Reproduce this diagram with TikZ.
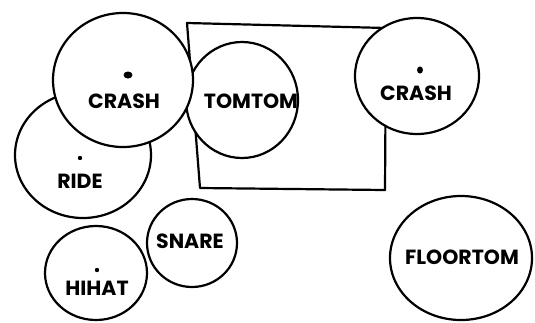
\documentclass[tikz,border=0pt]{standalone}
\usepackage{fontspec}
\newfontfamily\drumfont{Poppins}
\usepackage{tikz}

\begin{document}
\begin{tikzpicture}[x=1pt,y=-1pt,line width=2.2pt,font=\drumfont\bfseries\fontsize{20.5}{24}\selectfont]
\useasboundingbox (0,0) rectangle (535,322);
\draw[line join=round] (187,23)--(386,28)--(385,190)--(200,188)--cycle;
\draw[fill=white] (83,155) ellipse [x radius=68,y radius=63];
\draw[fill=white] (242,100) ellipse [x radius=56,y radius=58];
\draw[fill=white] (123,80) ellipse [x radius=70,y radius=67];
\draw[fill=white] (417,76) ellipse [x radius=62,y radius=58];
\draw[fill=white] (192,243) ellipse [x radius=45,y radius=44];
\draw[fill=white] (96,273) ellipse [x radius=51,y radius=47];
\draw[fill=white] (461,258) ellipse [x radius=71,y radius=62];
\fill (128,75) ellipse [x radius=4.5,y radius=3.5];
\fill (80,158) circle (2.2);
\fill (420,70) ellipse [x radius=3,y radius=3.5];
\fill (97,270) circle (2.2);
\node (crashl) at (124,101) {CRASH};
\node (tomtom) at (251,101) {TOMTOM};
\node (crashr) at (416,93) {CRASH};
\node (ride) at (80,181) {RIDE};
\node (snare) at (190,241) {SNARE};
\node (hihat) at (97,288) {HIHAT};
\node (floortom) at (462,257) {FLOORTOM};
\end{tikzpicture}
\end{document}
